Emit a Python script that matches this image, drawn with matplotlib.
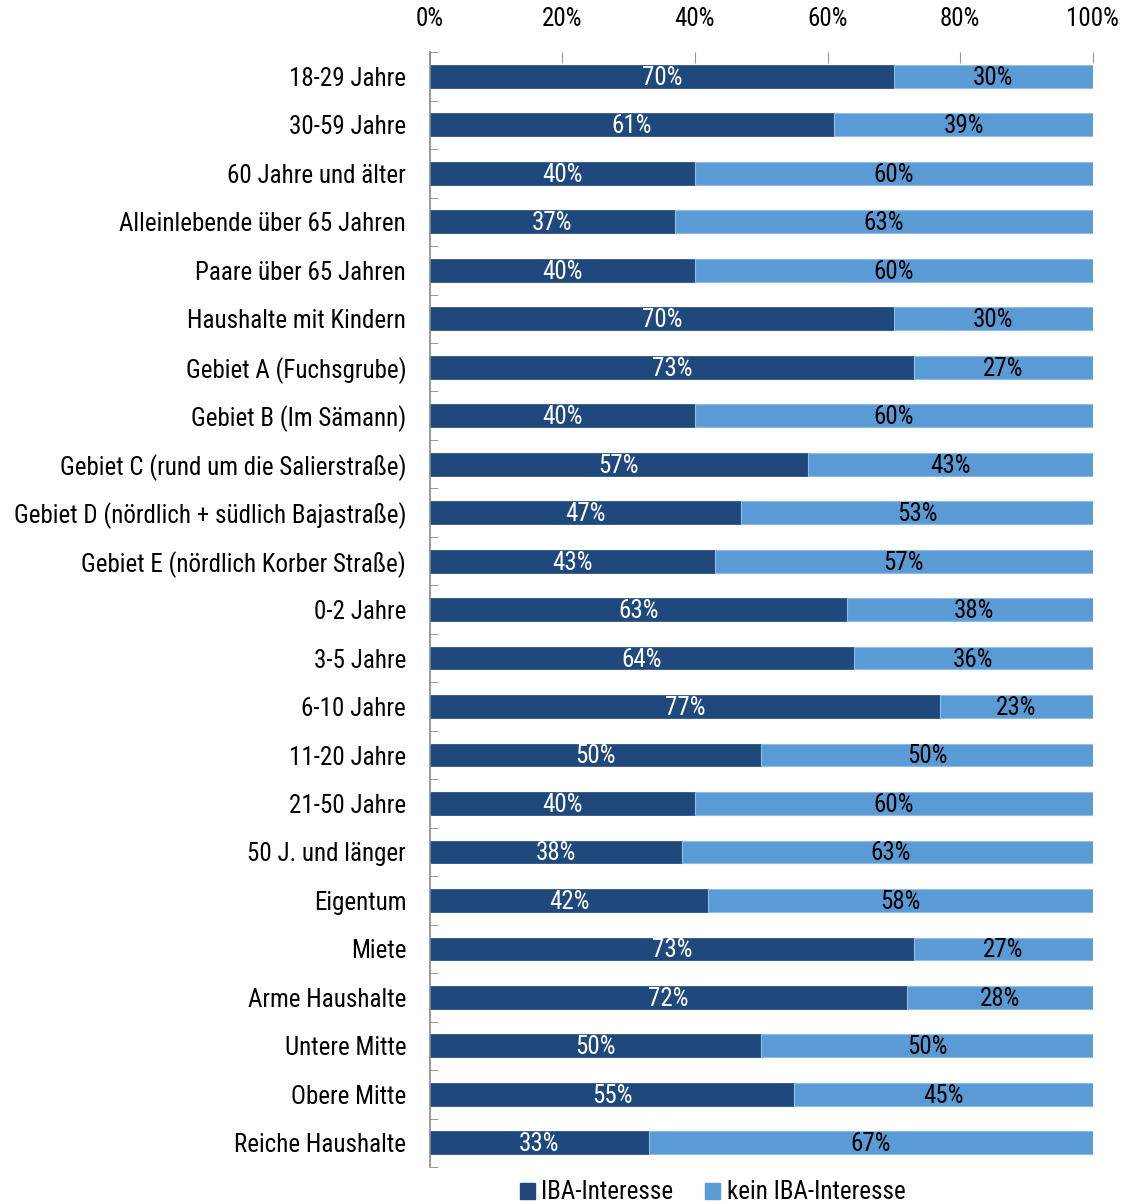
import matplotlib.pyplot as plt
from matplotlib import font_manager
from matplotlib.ticker import FixedLocator, PercentFormatter
from matplotlib.patches import Patch
import numpy as np

categories = [
    "18-29 Jahre", "30-59 Jahre", "60 Jahre und älter",
    "Alleinlebende über 65 Jahren", "Paare über 65 Jahren",
    "Haushalte mit Kindern", "Gebiet A (Fuchsgrube)", "Gebiet B (Im Sämann)",
    "Gebiet C (rund um die Salierstraße)",
    "Gebiet D (nördlich + südlich Bajastraße)",
    "Gebiet E (nördlich Korber Straße)",
    "0-2 Jahre", "3-5 Jahre", "6-10 Jahre", "11-20 Jahre", "21-50 Jahre",
    "50 J. und länger", "Eigentum", "Miete", "Arme Haushalte",
    "Untere Mitte", "Obere Mitte", "Reiche Haushalte",
]
iba = [70, 61, 40, 37, 40, 70, 73, 40, 57, 47, 43, 63, 64, 77, 50, 40, 38,
       42, 73, 72, 50, 55, 33]
kein_iba = [30, 39, 60, 63, 60, 30, 27, 60, 43, 53, 57, 38, 36, 23, 50, 60,
            63, 58, 27, 28, 50, 45, 67]
series_names = ["IBA-Interesse", "kein IBA-Interesse"]
x_ticks = [0, 20, 40, 60, 80, 100]

dark = "#1f497d"
light = "#5b9bd5"

# pick a narrow sans if one is around, else plain Liberation Sans
fonts = font_manager.fontManager.ttflist
narrow = [f.name for f in fonts
          if ("Narrow" in f.name or "Condensed" in f.name) and "Mono" not in f.name]
stretch = "normal"
if narrow:
    family = sorted(narrow, key=lambda n: ("Liberation" not in n, "Roboto" not in n, n))[0]
else:
    cond = [f.name for f in fonts if f.stretch in ("condensed", "semi-condensed")
            and "Mono" not in f.name and f.name in ("Noto Sans", "Open Sans", "Roboto", "DejaVu Sans")]
    if cond:
        family, stretch = cond[0], "condensed"
    else:
        family = "Liberation Sans"
plt.rcParams["font.family"] = [family, "DejaVu Sans"]
plt.rcParams["font.stretch"] = stretch
fs = 18

fig = plt.figure(figsize=(11.4, 12.04), dpi=100)
ax = fig.add_axes([0.377, 0.0307, 0.5816, 0.926])

y = np.arange(len(categories))
iba = np.array(iba)
kein_iba = np.array(kein_iba)

ax.barh(y, iba, height=0.47, color=dark, edgecolor=dark, linewidth=0.5)
ax.barh(y, kein_iba, left=iba, height=0.47, color=light, edgecolor="#8fbde6", linewidth=0.8)

for yi, a, b in zip(y, iba, kein_iba):
    ax.text(a / 2, yi + 0.03, f"{a}%", color="white", ha="center", va="center", fontsize=fs)
    ax.text(a + b / 2, yi + 0.03, f"{b}%", color="black", ha="center", va="center", fontsize=fs)

ax.set_xlim(0, 100)
ax.set_ylim(len(categories) - 0.5, -0.5)

ax.xaxis.set_ticks_position("top")
ax.set_xticks(x_ticks)
ax.xaxis.set_major_formatter(PercentFormatter(decimals=0))
ax.tick_params(axis="x", direction="in", length=8, color="#999999", pad=15, labelsize=fs)

ax.set_yticks(y)
ax.set_yticklabels(categories, fontsize=fs)
ax.yaxis.set_minor_locator(FixedLocator(np.arange(-0.5, len(categories), 1)))
ax.tick_params(axis="y", which="major", length=0, pad=17)
ax.tick_params(axis="y", which="minor", direction="in", length=6, color="#888888")

for side in ["top", "right", "bottom"]:
    ax.spines[side].set_visible(False)
ax.spines["left"].set_color("#888888")
ax.spines["left"].set_linewidth(1.2)

handles = [Patch(color=dark), Patch(color=light)]
fig.legend(handles, series_names, loc="lower center", bbox_to_anchor=(0.625, -0.019),
           ncol=2, frameon=False, fontsize=fs, handlelength=0.6, handleheight=0.6,
           handletextpad=0.25, columnspacing=1.3)

fig.savefig("out.png", dpi=100)
